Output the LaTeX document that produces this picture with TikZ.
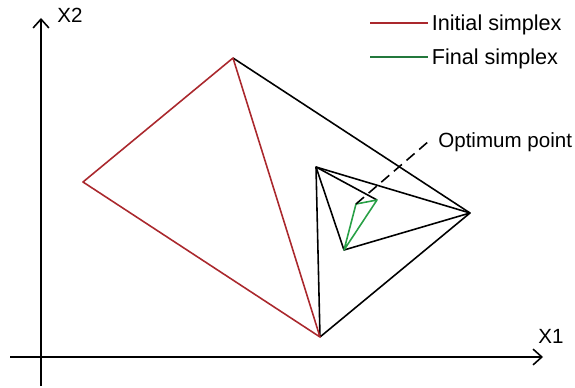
\documentclass[tikz,border=0pt]{standalone}
\usepackage{fontspec}
\setmainfont{Liberation Sans}
\usetikzlibrary{arrows.meta, positioning}
\definecolor{initred}{RGB}{170,40,45}
\definecolor{finalgreen}{RGB}{40,160,70}
\definecolor{legendgreen}{RGB}{35,120,60}
\tikzstyle{axis}    = [line width=0.9pt, -{Straight Barb[length=5pt,width=9pt]}]
\tikzstyle{edge}    = [line width=0.9pt, draw=black, line join=round]
\tikzstyle{initial} = [line width=0.9pt, draw=initred, line join=round]
\tikzstyle{final}   = [line width=0.9pt, draw=finalgreen, line join=round]
\tikzstyle{label}   = [inner sep=0pt, font=\fontsize{11.7}{14}\selectfont]
\tikzstyle{legend}  = [inner sep=0pt, font=\fontsize{12.3}{15}\selectfont]

\begin{document}
\begin{tikzpicture}[x=0.02cm, y=-0.02cm]
    \useasboundingbox (0,0) rectangle (575,388);

    % axes
    \coordinate (xstart) at (10,357);
    \coordinate (xend)   at (543,357);
    \coordinate (ystart) at (41,386);
    \coordinate (yend)   at (41,18);
    \draw [axis] (xstart) -- (xend);
    \draw [axis] (ystart) -- (yend);
    \node (xlab) [label] at (551,336) {X1};
    \node (ylab) [label] at (70,15)   {X2};

    % simplex vertices
    \coordinate (a) at (83,182);
    \coordinate (b) at (233,58);
    \coordinate (c) at (320,337);
    \coordinate (d) at (470,213);
    \coordinate (e) at (316,167);
    \coordinate (f) at (344,250);
    \coordinate (g) at (377,200);
    \coordinate (h) at (356,204);

    % intermediate simplexes
    \draw [edge] (b) -- (d) -- (c);
    \draw [edge] (c) -- (e) -- (d);
    \draw [edge] (e) -- (f) -- (d);
    \draw [edge] (e) -- (g);

    % initial simplex
    \draw [initial] (a) -- (b) -- (c) -- cycle;

    % final simplex
    \draw [final] (h) -- (g) -- (f) -- cycle;

    % optimum point
    \coordinate (opt) at (429,141);
    \draw [edge, dash pattern=on 6pt off 3.5pt] (h) -- (opt);
    \node (optlab) [label, anchor=west] at (438,142) {Optimum point};

    % legend
    \coordinate (l1a) at (370,23);
    \coordinate (l1b) at (428,23);
    \coordinate (l2a) at (370,57);
    \coordinate (l2b) at (428,57);
    \draw [initial] (l1a) -- (l1b);
    \draw [line width=0.9pt, draw=legendgreen] (l2a) -- (l2b);
    \node (initlab)  [legend, anchor=west, right=2pt of l1b, yshift=-1pt] {Initial simplex};
    \node (finallab) [legend, anchor=west, right=2pt of l2b, yshift=-1pt] {Final simplex};
\end{tikzpicture}
\end{document}
